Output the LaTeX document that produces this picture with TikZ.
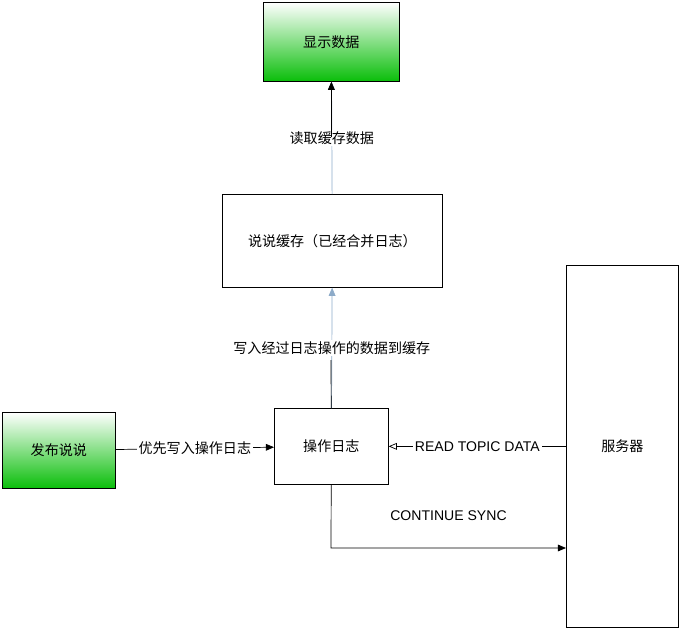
\documentclass[tikz,border=0pt]{standalone}
\usepackage{fontspec}
\setmainfont{Liberation Sans}
\newfontfamily\cjk{Noto Sans CJK SC}
\usetikzlibrary{arrows.meta,positioning}
\definecolor{boxgreen}{RGB}{10,190,10}
\definecolor{lineblue}{RGB}{140,170,200}
\begin{document}
\begin{tikzpicture}[x=0.02cm,y=-0.02cm,font=\fontsize{8}{10}\selectfont\cjk]
  \tikzset{box/.style = {draw,anchor=north west,inner sep=0pt}}
  \tikzset{greenbox/.style = {box,top color=white,bottom color=boxgreen}}
  \tikzset{edge/.style = {-{Triangle[angle=45:5pt]}}}
  \tikzset{lbl/.style = {fill=white,inner sep=1pt}}
  \useasboundingbox (0,0) rectangle (680,629);

	\node[greenbox,minimum width=136*0.02cm,minimum height=79*0.02cm] (show) at (263,2) {显示数据};
	\node[box,minimum width=220*0.02cm,minimum height=93*0.02cm] (cache) at (222,194) {说说缓存（已经合并日志）};
	\node[box,minimum width=114*0.02cm,minimum height=76*0.02cm] (log) at (274,408) {操作日志};
	\node[greenbox,minimum width=113*0.02cm,minimum height=76*0.02cm] (post) at (2,412) {发布说说};
	\node[box,minimum width=112*0.02cm,minimum height=362*0.02cm] (server) at (566,265) {服务器};
	\coordinate (corner) at (331,548);

    \path[edge,draw=lineblue] (cache) -- node[lbl,text=black] {读取缓存数据} (show);
    \draw[edge] (show.south) ++(0,55) coordinate (up) -- (show);
    \path[edge,draw=lineblue] (log) -- node[lbl,text=black] {写入经过日志操作的数据到缓存} (cache);
    \draw (log) -- (331,360);
    \draw[edge] (post) -- node[lbl] {优先写入操作日志} (log);
    \draw[-{Triangle[open,angle=45:5pt]}] (server.west |- log) -- node[lbl,font=\fontsize{8}{10}\selectfont] {READ TOPIC DATA} (log);
    \draw[edge] (log) -- (corner) -- node[above=12pt,font=\fontsize{8}{10}\selectfont] {CONTINUE SYNC} (server.west |- corner);

\end{tikzpicture}
\end{document}
